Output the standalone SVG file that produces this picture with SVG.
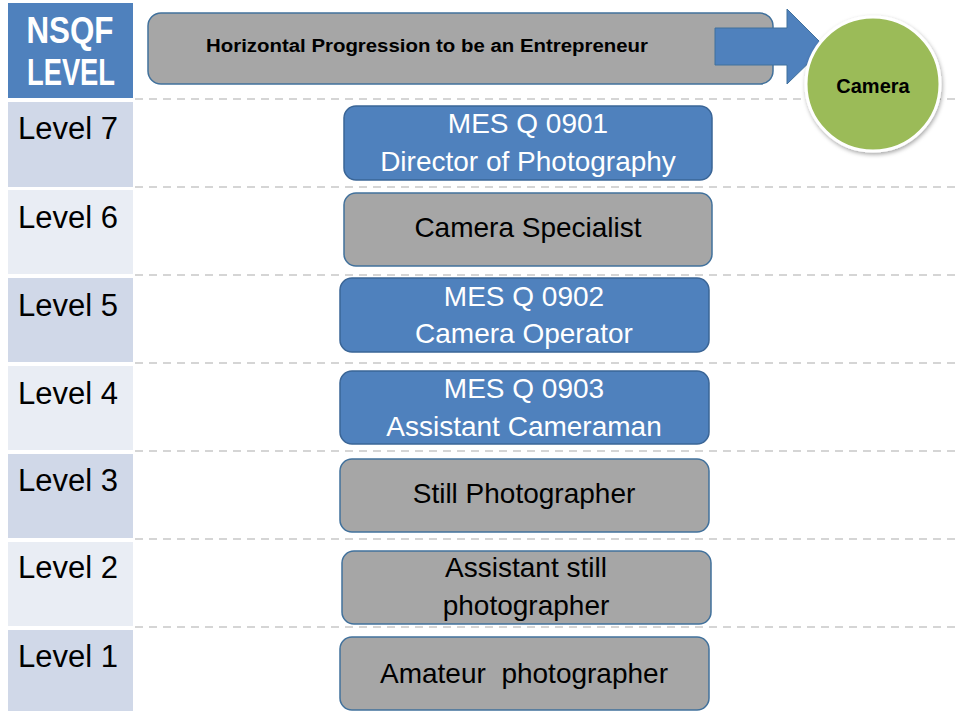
<svg xmlns="http://www.w3.org/2000/svg" width="957" height="711" viewBox="0 0 957 711">
<defs>
<style>
.t{font-family:"Liberation Sans",Arial,sans-serif;}
.lvl{font-family:"Liberation Sans",Arial,sans-serif;font-size:31px;fill:#000;}
.cd{fill:#D0D8E8;}
.cl{fill:#E9EDF4;}
.bb{fill:#4F81BD;stroke:#3A6596;stroke-width:1.5;}
.gb{fill:#A6A6A6;stroke:#41719C;stroke-width:1.5;}
.wt{font-family:"Liberation Sans",Arial,sans-serif;font-size:28px;fill:#fff;text-anchor:middle;}
.bt{font-family:"Liberation Sans",Arial,sans-serif;font-size:28px;fill:#000;text-anchor:middle;white-space:pre;}
.dash{stroke:#C8C8C8;stroke-width:1.5;stroke-dasharray:8 6;fill:none;}
</style>
<filter id="sh" x="-20%" y="-20%" width="140%" height="140%">
<feDropShadow dx="1" dy="2" stdDeviation="2" flood-color="#000" flood-opacity="0.35"/>
</filter>
</defs>
<rect width="957" height="711" fill="#fff"/>

<g id="grid">
<line class="dash" x1="135" y1="99" x2="957" y2="99"/>
<line class="dash" x1="135" y1="187" x2="957" y2="187"/>
<line class="dash" x1="135" y1="275" x2="957" y2="275"/>
<line class="dash" x1="135" y1="363" x2="957" y2="363"/>
<line class="dash" x1="135" y1="451" x2="957" y2="451"/>
<line class="dash" x1="135" y1="539" x2="957" y2="539"/>
<line class="dash" x1="135" y1="627" x2="957" y2="627"/>
</g>

<g id="header">
<rect x="8" y="3" width="125" height="95" fill="#4F81BD"/>
<text class="t" x="70" y="43" font-size="36" font-weight="bold" fill="#fff" text-anchor="middle" textLength="87" lengthAdjust="spacingAndGlyphs">NSQF</text>
<text class="t" x="71" y="85" font-size="36" font-weight="bold" fill="#fff" text-anchor="middle" textLength="88" lengthAdjust="spacingAndGlyphs">LEVEL</text>
</g>

<g id="level7"><rect class="cd" x="8" y="102" width="125" height="85"/><text class="lvl" x="18" y="139">Level 7</text></g>
<g id="level6"><rect class="cl" x="8" y="190" width="125" height="84"/><text class="lvl" x="18" y="228">Level 6</text></g>
<g id="level5"><rect class="cd" x="8" y="278" width="125" height="84"/><text class="lvl" x="18" y="316">Level 5</text></g>
<g id="level4"><rect class="cl" x="8" y="366" width="125" height="84"/><text class="lvl" x="18" y="404">Level 4</text></g>
<g id="level3"><rect class="cd" x="8" y="454" width="125" height="84"/><text class="lvl" x="18" y="491">Level 3</text></g>
<g id="level2"><rect class="cl" x="8" y="542" width="125" height="84"/><text class="lvl" x="18" y="578">Level 2</text></g>
<g id="level1"><rect class="cd" x="8" y="630" width="125" height="81"/><text class="lvl" x="18" y="667">Level 1</text></g>

<g id="progression">
<rect class="gb" x="148" y="13" width="625" height="71" rx="13"/>
<text class="t" x="206" y="52" font-size="18" font-weight="bold" fill="#000" textLength="442" lengthAdjust="spacingAndGlyphs">Horizontal Progression to be an Entrepreneur</text>
</g>

<g id="connectors">
<polygon points="715,28 787,28 787,9 825,47 787,84 787,65 715,65" fill="#4F81BD" stroke="#41719C" stroke-width="1"/>
</g>

<g id="camera">
<circle cx="873" cy="84" r="67" fill="#9BBB59" stroke="#fff" stroke-width="3" filter="url(#sh)"/>
<text class="t" x="873" y="93" font-size="20" font-weight="bold" fill="#000" text-anchor="middle">Camera</text>
</g>

<g id="box7">
<rect class="bb" x="344" y="106" width="368" height="74" rx="12"/>
<text class="wt" x="528" y="133">MES Q 0901</text>
<text class="wt" x="528" y="171">Director of Photography</text>
</g>
<g id="box6">
<rect class="gb" x="344" y="193" width="368" height="73" rx="12"/>
<text class="bt" x="528" y="237">Camera Specialist</text>
</g>
<g id="box5">
<rect class="bb" x="340" y="278" width="369" height="74" rx="12"/>
<text class="wt" x="524" y="306">MES Q 0902</text>
<text class="wt" x="524" y="343">Camera Operator</text>
</g>
<g id="box4">
<rect class="bb" x="340" y="371" width="369" height="73" rx="12"/>
<text class="wt" x="524" y="398">MES Q 0903</text>
<text class="wt" x="524" y="436">Assistant Cameraman</text>
</g>
<g id="box3">
<rect class="gb" x="340" y="459" width="369" height="73" rx="12"/>
<text class="bt" x="524" y="503">Still Photographer</text>
</g>
<g id="box2">
<rect class="gb" x="342" y="551" width="369" height="73" rx="12"/>
<text class="bt" x="526" y="577">Assistant still</text>
<text class="bt" x="526" y="615">photographer</text>
</g>
<g id="box1">
<rect class="gb" x="340" y="637" width="369" height="73" rx="12"/>
<text class="bt" x="524" y="683">Amateur  photographer</text>
</g>
</svg>
